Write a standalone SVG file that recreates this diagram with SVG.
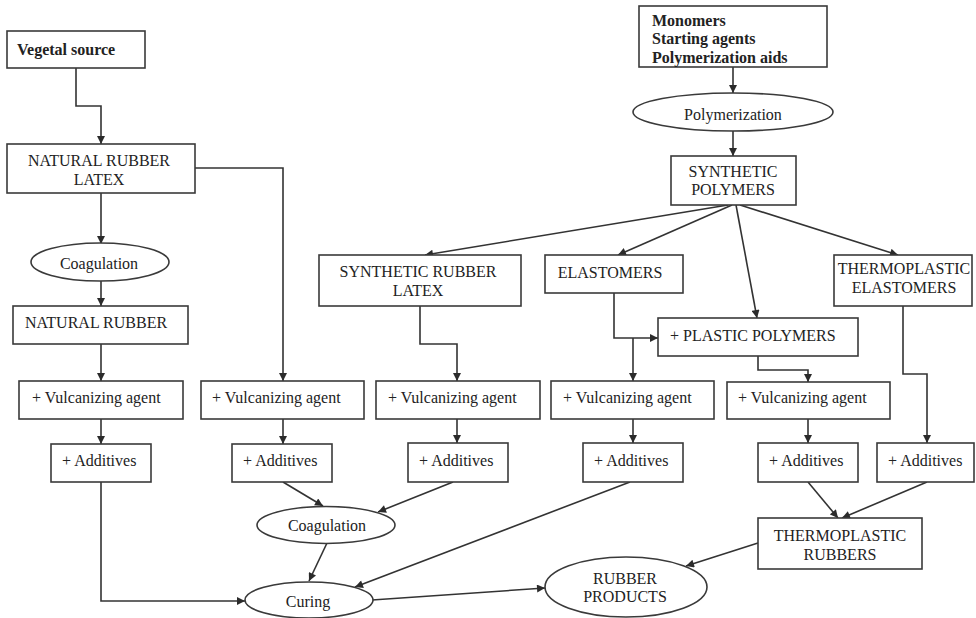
<svg xmlns="http://www.w3.org/2000/svg" width="976" height="618" viewBox="0 0 976 618">
<defs>
<marker id="ah" viewBox="0 0 10 10" refX="10" refY="5" markerWidth="9" markerHeight="8" markerUnits="userSpaceOnUse" orient="auto"><path d="M0,0 L10,5 L0,10 z" fill="#2b2b2b"/></marker>
<style>
.box{fill:#fff;stroke:#3a3a3a;stroke-width:1.6}
.t{font-family:"Liberation Serif","Times New Roman",serif;font-size:16px;fill:#222}
.b{font-weight:bold}
.c{text-anchor:middle}
.e{fill:none;stroke:#333;stroke-width:1.6;marker-end:url(#ah)}
.n{fill:none;stroke:#333;stroke-width:1.6}
</style>
</defs>
<rect width="976" height="618" fill="#fff"/>
<g id="connectors">
<path class="e" d="M76 68 V106 H101 V144"/>
<path class="e" d="M101 193 V244"/>
<path class="e" d="M101 281 V306"/>
<path class="e" d="M101 344 V381"/>
<path class="e" d="M101 419 V444"/>
<path class="e" d="M101 482 V601 H245"/>
<path class="e" d="M195 168 H283 V381"/>
<path class="e" d="M283 419 V444"/>
<path class="e" d="M283 482 L323 506"/>
<path class="e" d="M327 543 L309 581"/>
<path class="e" d="M453 482 L378 512"/>
<path class="e" d="M630 482 L355 587"/>
<path class="e" d="M372 600 L545 588"/>
<path class="e" d="M733 67 V93"/>
<path class="e" d="M733 131 V156"/>
<path class="e" d="M728 205 L425 255"/>
<path class="e" d="M732 205 L618 255"/>
<path class="e" d="M736 205 L757 318"/>
<path class="e" d="M740 205 L898 255"/>
<path class="e" d="M420 306 V344 H457 V381"/>
<path class="e" d="M457 419 V443"/>
<path class="e" d="M614 293 V338 H658"/>
<path class="e" d="M633 338 V381"/>
<path class="e" d="M633 419 V443"/>
<path class="e" d="M758 356 V370 H808 V382"/>
<path class="e" d="M808 419 V443"/>
<path class="e" d="M903 306 V374 H927 V443"/>
<path class="e" d="M808 482 L838 518"/>
<path class="e" d="M927 482 L842 518"/>
<path class="e" d="M758 543 L686 566"/>
</g>
<g id="vegetal-source"><rect class="box" x="7" y="31" width="138" height="37"/><text class="t b" x="17" y="55">Vegetal source</text></g>
<g id="natural-rubber-latex"><rect class="box" x="7" y="144" width="188" height="49"/><text class="t c" x="99" y="166">NATURAL RUBBER</text><text class="t c" x="99" y="185">LATEX</text></g>
<g id="coagulation-1"><ellipse class="box" cx="100" cy="262" rx="69" ry="19"/><text class="t c" x="99" y="269">Coagulation</text></g>
<g id="natural-rubber"><rect class="box" x="13" y="306" width="175" height="38"/><text class="t" x="25" y="328">NATURAL RUBBER</text></g>
<g id="vulc-1"><rect class="box" x="19" y="381" width="164" height="38"/><text class="t" x="32" y="403">+ Vulcanizing agent</text></g>
<g id="add-1"><rect class="box" x="51" y="444" width="100" height="38"/><text class="t" x="62" y="466">+ Additives</text></g>
<g id="vulc-2"><rect class="box" x="201" y="381" width="163" height="38"/><text class="t" x="212" y="403">+ Vulcanizing agent</text></g>
<g id="add-2"><rect class="box" x="232" y="444" width="100" height="38"/><text class="t" x="243" y="466">+ Additives</text></g>
<g id="coagulation-2"><ellipse class="box" cx="326" cy="525" rx="69" ry="18.5"/><text class="t c" x="327" y="531">Coagulation</text></g>
<g id="curing"><ellipse class="box" cx="309" cy="600" rx="64" ry="18"/><text class="t c" x="308" y="607">Curing</text></g>
<g id="monomers"><rect class="box" x="639" y="6" width="188" height="61"/><text class="t b" x="652" y="26">Monomers</text><text class="t b" x="652" y="44">Starting agents</text><text class="t b" x="652" y="63">Polymerization aids</text></g>
<g id="polymerization"><ellipse class="box" cx="733" cy="112" rx="100" ry="19"/><text class="t c" x="733" y="120">Polymerization</text></g>
<g id="synthetic-polymers"><rect class="box" x="671" y="156" width="125" height="49"/><text class="t c" x="733" y="177">SYNTHETIC</text><text class="t c" x="733" y="195">POLYMERS</text></g>
<g id="synthetic-rubber-latex"><rect class="box" x="319" y="255" width="202" height="51"/><text class="t c" x="418" y="277">SYNTHETIC RUBBER</text><text class="t c" x="418" y="296">LATEX</text></g>
<g id="elastomers"><rect class="box" x="545" y="255" width="138" height="38"/><text class="t c" x="610" y="278">ELASTOMERS</text></g>
<g id="plastic-polymers"><rect class="box" x="658" y="318" width="200" height="38"/><text class="t" x="670" y="341">+ PLASTIC POLYMERS</text></g>
<g id="thermoplastic-elastomers"><rect class="box" x="834" y="255" width="138" height="51"/><text class="t c" x="904" y="274">THERMOPLASTIC</text><text class="t c" x="904" y="293">ELASTOMERS</text></g>
<g id="vulc-3"><rect class="box" x="376" y="381" width="164" height="38"/><text class="t" x="388" y="403">+ Vulcanizing agent</text></g>
<g id="vulc-4"><rect class="box" x="551" y="381" width="163" height="38"/><text class="t" x="563" y="403">+ Vulcanizing agent</text></g>
<g id="vulc-5"><rect class="box" x="727" y="382" width="163" height="37"/><text class="t" x="738" y="403">+ Vulcanizing agent</text></g>
<g id="add-3"><rect class="box" x="408" y="443" width="100" height="39"/><text class="t" x="419" y="466">+ Additives</text></g>
<g id="add-4"><rect class="box" x="583" y="443" width="100" height="39"/><text class="t" x="594" y="466">+ Additives</text></g>
<g id="add-5"><rect class="box" x="758" y="443" width="100" height="39"/><text class="t" x="769" y="466">+ Additives</text></g>
<g id="add-6"><rect class="box" x="877" y="443" width="97" height="39"/><text class="t" x="888" y="466">+ Additives</text></g>
<g id="thermoplastic-rubbers"><rect class="box" x="758" y="518" width="164" height="51"/><text class="t c" x="840" y="541">THERMOPLASTIC</text><text class="t c" x="840" y="560">RUBBERS</text></g>
<g id="rubber-products"><ellipse class="box" cx="626" cy="587" rx="81" ry="30"/><text class="t c" x="625" y="584">RUBBER</text><text class="t c" x="625" y="602">PRODUCTS</text></g>
</svg>
